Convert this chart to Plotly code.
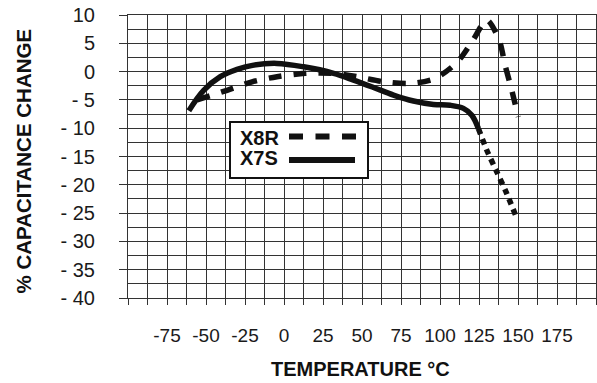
import plotly.graph_objects as go

# ---------------- data ----------------
x7s_temp = [-61, -51.5, -40.8, -30.1, -19.4, -4.5, 12.6, 31.8, 44.6, 57.4, 70.2, 83.0, 95.8, 106.5, 115.0, 120.4, 124.6]
x7s_cap = [-6.9, -3.3, -0.9, 0.4, 1.15, 1.45, 0.85, -0.3, -1.5, -2.8, -4.15, -5.2, -5.8, -5.95, -6.5, -7.7, -10.05]

x7s_ext_temp = [124.6, 130.0, 136.4, 142.4, 148.8]
x7s_ext_cap = [-10.05, -13.9, -17.7, -21.3, -25.6]

x8r_temp = [-55.7, -36.5, -20.5, -4.5, 13.7, 30.8, 46.8, 63.8, 80.9, 96.9, 110.8, 120.8, 130.0, 137.9, 141.7, 146.0, 150.2]
x8r_cap = [-5.0, -3.3, -1.8, -0.9, -0.3, -0.3, -0.9, -1.8, -2.1, -1.2, 1.6, 5.4, 9.1, 5.6, 1.15, -3.3, -8.0]

x_tick_vals = [-100 + 12.5 * i for i in range(25)]
x_label_vals = [-75, -50, -25, 0, 25, 50, 75, 100, 125, 150, 175]
y_tick_vals = [10, 5, 0, -5, -10, -15, -20, -25, -30, -35, -40]
y_tick_text = ["10", "5", "0", "- 5", "- 10", "- 15", "- 20", "- 25", "- 30", "- 35", "- 40"]
legend_names = ["X8R", "X7S"]

# ---------------- layout geometry ----------------
W, H = 597, 383
ML, MR, MT, MB = 128, 1, 15, 85
PW = W - ML - MR
PH = H - MT - MB


def px_x(px):
    return (px - ML) / PW


def px_y(py):
    return (H - MB - py) / PH


FONT = "Liberation Sans, Arial, Helvetica, sans-serif"
GRID = "#333333"

fig = go.Figure()
fig.add_trace(go.Scatter(x=x8r_temp, y=x8r_cap, mode="lines", name=legend_names[0],
                         line=dict(color="#111111", width=5.5, dash="13px,12px", shape="spline", smoothing=0.8),
                         showlegend=False))
fig.add_trace(go.Scatter(x=x7s_temp, y=x7s_cap, mode="lines", name=legend_names[1],
                         line=dict(color="#111111", width=5.5, shape="spline", smoothing=1.0),
                         showlegend=False))
fig.add_trace(go.Scatter(x=x7s_ext_temp, y=x7s_ext_cap, mode="lines", name=legend_names[1] + " ext",
                         line=dict(color="#111111", width=5.5, dash="6px,5px", shape="spline", smoothing=0.6),
                         showlegend=False))

x_tick_text = [(str(int(v)) if v in x_label_vals else "") for v in x_tick_vals]

fig.update_xaxes(range=[-100, 200], tickmode="array", tickvals=x_tick_vals, ticktext=x_tick_text,
                 showgrid=True, gridcolor=GRID, gridwidth=1, zeroline=False,
                 showline=True, linecolor=GRID, linewidth=1, mirror=True,
                 ticks="outside", ticklen=6, tickcolor=GRID, tickwidth=1,
                 ticklabelstandoff=14,
                 tickfont=dict(family=FONT, size=19, color="#1a1a1a"))
fig.update_yaxes(range=[-40, 10], tickmode="array", tickvals=y_tick_vals, ticktext=y_tick_text,
                 showgrid=True, gridcolor=GRID, gridwidth=1, zeroline=False,
                 showline=True, linecolor=GRID, linewidth=1, mirror=True,
                 ticks="outside", ticklen=8, tickcolor=GRID, tickwidth=1,
                 ticklabelstandoff=20,
                 minor=dict(tickmode="linear", tick0=-40, dtick=2.5, showgrid=True, gridcolor=GRID, gridwidth=1, ticks=""),
                 tickfont=dict(family=FONT, size=20, color="#1a1a1a"))

# legend box (drawn manually)
shapes = [
    dict(type="rect", xref="paper", yref="paper", x0=px_x(230), x1=px_x(368), y0=px_y(178), y1=px_y(122),
         line=dict(color="#111111", width=2), fillcolor="white", layer="above"),
    dict(type="line", xref="paper", yref="paper", x0=px_x(289), x1=px_x(356), y0=px_y(136.5), y1=px_y(136.5),
         line=dict(color="#111111", width=6, dash="14px,12.5px"), layer="above"),
    dict(type="line", xref="paper", yref="paper", x0=px_x(289), x1=px_x(355), y0=px_y(160), y1=px_y(160),
         line=dict(color="#111111", width=6), layer="above"),
]

annotations = [
    dict(text="<b>X8R</b>", xref="paper", yref="paper", x=px_x(238), y=px_y(137.5), xanchor="left", yanchor="middle",
         showarrow=False, font=dict(family=FONT, size=20, color="#111111")),
    dict(text="<b>X7S</b>", xref="paper", yref="paper", x=px_x(238), y=px_y(157.5), xanchor="left", yanchor="middle",
         showarrow=False, font=dict(family=FONT, size=20, color="#111111")),
    dict(text="<b>TEMPERATURE °C</b>", xref="paper", yref="paper", x=px_x(360), y=px_y(368.5),
         xanchor="center", yanchor="middle", showarrow=False, font=dict(family=FONT, size=20, color="#111111")),
    dict(text="<b>% CAPACITANCE CHANGE</b>", xref="paper", yref="paper", x=px_x(23), y=px_y(161.5),
         xanchor="center", yanchor="middle", textangle=-90, showarrow=False,
         font=dict(family=FONT, size=20.5, color="#111111")),
]

fig.update_layout(width=W, height=H, margin=dict(l=ML, r=MR, t=MT, b=MB),
                  paper_bgcolor="white", plot_bgcolor="white",
                  shapes=shapes, annotations=annotations, showlegend=False)

fig.write_html("out.html")
